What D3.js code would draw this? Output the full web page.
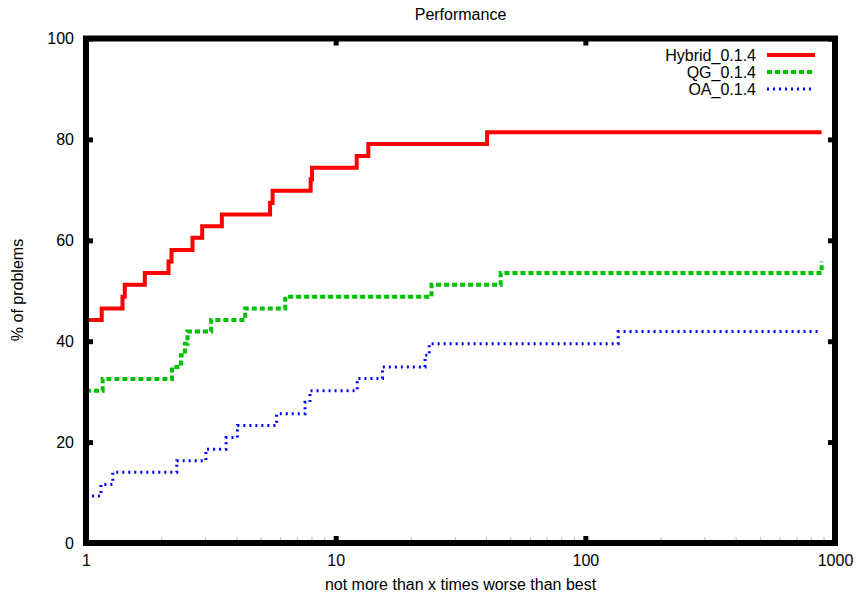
<!DOCTYPE html>
<html>
<head>
<meta charset="utf-8">
<script src="https://cdn.jsdelivr.net/npm/d3@7"></script>
<style>
  body { margin: 0; background: #fff; }
  svg text { font-family: "Liberation Sans", Arial, Helvetica, sans-serif; fill: #000; }
</style>
</head>
<body>
<div id="chart"></div>
<script>
//--- Daten ------------------------------------------------------------------ //

var seriesNames = ['Hybrid_0.1.4', 'QG_0.1.4', 'OA_0.1.4'];

var hybridX = [1, 1.156, 1.40, 1.43, 1.72, 2.14, 2.20, 2.67, 2.92, 3.50, 5.46, 5.59, 7.94, 8.04, 12.14, 13.51, 40.4, 884];
var hybridY = [44.2, 46.5, 48.8, 51.2, 53.5, 55.8, 58.1, 60.5, 62.8, 65.1, 67.4, 69.8, 72.1, 74.4, 76.7, 79.1, 81.4, 81.4];

var qgX = [1, 1.166, 2.21, 2.40, 2.49, 2.55, 3.17, 4.34, 6.28, 24.2, 45.8, 884];
var qgY = [30.2, 32.5, 34.9, 37.2, 39.5, 41.9, 44.2, 46.5, 48.8, 51.2, 53.5, 55.8];

var oaX = [1, 1.148, 1.28, 2.31, 3.02, 3.64, 4.04, 5.80, 7.54, 7.89, 12.2, 15.4, 22.8, 23.7, 135.4, 884];
var oaY = [9.3, 11.6, 14.0, 16.3, 18.6, 20.9, 23.3, 25.6, 27.9, 30.2, 32.6, 34.9, 37.2, 39.5, 41.9, 41.9];

var xTicks = [1, 10, 100, 1000];
var xMinorTicks = [2, 3, 4, 5, 6, 7, 8, 9, 20, 30, 40, 50, 60, 70, 80, 90, 200, 300, 400, 500, 600, 700, 800, 900];
var yTicks = [0, 20, 40, 60, 80, 100];

var chartTitle = 'Performance';
var xLabel = 'not more than x times worse than best';
var yLabel = '% of problems';


//--- Chart ------------------------------------------------------------------- //

function renderChart() {

    var width = 858, height = 593;
    var margin = {top: 38.5, right: 23, bottom: 50, left: 86};
    var w = width - margin.left - margin.right;
    var h = height - margin.top - margin.bottom;

    var svg = d3.select('#chart').append('svg')
        .attr('width', width)
        .attr('height', height);

    var g = svg.append('g')
        .attr('transform', 'translate(' + margin.left + ',' + margin.top + ')');

    var x = d3.scaleLog().domain([1, 1000]).range([0, w]);
    var y = d3.scaleLinear().domain([0, 100]).range([h, 0]);

    var styles = [
        {color: '#ff0000', width: 4, dash: null},
        {color: '#00c000', width: 4, dash: '5,3'},
        {color: '#0000ff', width: 3, dash: '2,4'}
    ];

    var data = [
        d3.zip(hybridX, hybridY),
        d3.zip(qgX, qgY),
        d3.zip(oaX, oaY)
    ];

    var line = d3.line()
        .x(function (d) { return x(d[0]); })
        .y(function (d) { return y(d[1]); })
        .curve(d3.curveStepAfter);

    // Kurven
    data.forEach(function (pts, i) {
        g.append('path')
            .datum(pts)
            .attr('fill', 'none')
            .attr('stroke', styles[i].color)
            .attr('stroke-width', styles[i].width)
            .attr('stroke-dasharray', styles[i].dash)
            .attr('d', line);
    });

    // minor ticks (log)
    var minor = d3.axisBottom(x).tickValues(xMinorTicks).tickSizeInner(-6).tickSizeOuter(0).tickFormat('');
    g.append('g').attr('transform', 'translate(0,' + h + ')').call(minor)
        .call(function (a) { a.select('.domain').remove(); a.selectAll('line').attr('stroke', '#bbb').attr('stroke-width', 1); });

    // Rahmen
    g.append('rect')
        .attr('x', 0).attr('y', 0)
        .attr('width', w).attr('height', h)
        .attr('fill', 'none')
        .attr('stroke', '#000')
        .attr('stroke-width', 6);

    function styleAxis(a) {
        a.select('.domain').remove();
        a.selectAll('line').attr('stroke', '#000').attr('stroke-width', 5);
        a.selectAll('text').attr('font-size', '16px').attr('font-family', null);
    }

    g.append('g')
        .call(d3.axisLeft(y).tickValues(yTicks).tickSizeInner(-7).tickSizeOuter(0).tickPadding(12))
        .call(styleAxis);

    g.append('g').attr('transform', 'translate(' + w + ',0)')
        .call(d3.axisRight(y).tickValues(yTicks).tickSizeInner(-7).tickSizeOuter(0).tickFormat(''))
        .call(styleAxis);

    g.append('g').attr('transform', 'translate(0,' + h + ')')
        .call(d3.axisBottom(x).tickValues(xTicks).tickSizeInner(-7).tickSizeOuter(0).tickPadding(12).tickFormat(d3.format('d')))
        .call(styleAxis);

    g.append('g')
        .call(d3.axisTop(x).tickValues(xTicks).tickSizeInner(-7).tickSizeOuter(0).tickFormat(''))
        .call(styleAxis);

    // Titel und Achsenbeschriftung
    svg.append('text')
        .attr('x', margin.left + w / 2).attr('y', 20)
        .attr('text-anchor', 'middle').attr('font-size', '16px')
        .text(chartTitle);

    svg.append('text')
        .attr('x', margin.left + w / 2).attr('y', 590)
        .attr('text-anchor', 'middle').attr('font-size', '16px')
        .text(xLabel);

    svg.append('text')
        .attr('transform', 'translate(23,290) rotate(-90)')
        .attr('text-anchor', 'middle').attr('font-size', '16px')
        .text(yLabel);

    // Legende
    var legend = svg.append('g');
    seriesNames.forEach(function (name, i) {
        var ly = 55 + i * 17;
        legend.append('text')
            .attr('x', 756).attr('y', ly + 5.5)
            .attr('text-anchor', 'end').attr('font-size', '16px')
            .text(name);
        legend.append('line')
            .attr('x1', 767).attr('x2', 815)
            .attr('y1', ly).attr('y2', ly)
            .attr('stroke', styles[i].color)
            .attr('stroke-width', styles[i].width)
            .attr('stroke-dasharray', styles[i].dash);
    });
}

renderChart();
</script>
</body>
</html>
